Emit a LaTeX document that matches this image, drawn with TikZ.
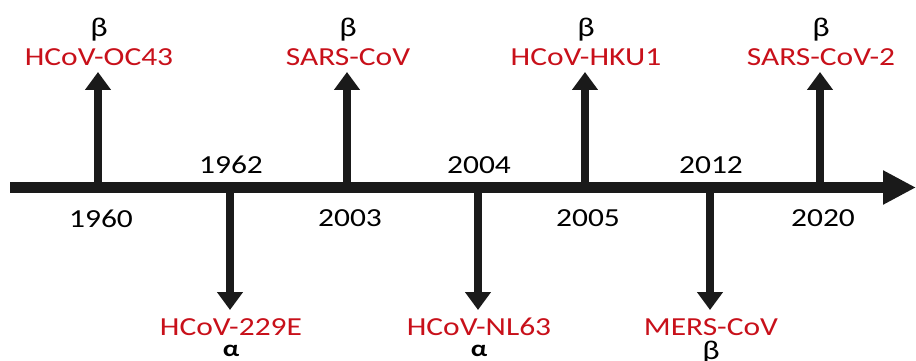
\documentclass[tikz,border=0pt]{standalone}
\usepackage{fontspec}
\usetikzlibrary{arrows.meta}
\newfontfamily\tlfont[FakeStretch=1.21]{Carlito}
\newfontfamily\greekfont[FakeStretch=1.21]{Carlito}
\definecolor{virusred}{HTML}{C8101A}
\definecolor{axisblack}{HTML}{1A1A1A}
\begin{document}
\begin{tikzpicture}[x=1pt,y=-1pt,
  axis/.style={draw=axisblack,line width=11pt,
    -{Triangle[width=32pt,length=33pt]}},
  event/.style={draw=axisblack,line width=8pt,
    -{Triangle[width=25pt,length=18pt]}},
  txt/.style={inner sep=0pt,font=\tlfont\fontsize{26}{28}\selectfont},
  virus/.style={txt,text=virusred},
  year/.style={txt,text=black},
  genus/.style={inner sep=0pt,anchor=base,text=black,
    font=\greekfont\fontsize{27}{30}\selectfont},
  alpha/.style={genus,font=\greekfont\bfseries\fontsize{23}{26}\selectfont}]
\useasboundingbox (0,0) rectangle (916,361);

% main time axis
\coordinate (a0) at (10,187.5);
\coordinate (a1) at (916,187.5);
\draw[axis] (a0) -- (a1);

% events above the axis
\foreach \n/\x/\name/\yr in {1/98/HCoV-OC43/1960, 3/347/SARS-CoV/2003,
                             5/585/HCoV-HKU1/2005, 7/820/SARS-CoV-2/2020}{
  \coordinate (b\n) at (\x,187.5);
  \coordinate (e\n) at (\x,72);
  \draw[event] (b\n) -- (e\n);
  \node[virus] (v\n) at (\x+1,57.5) {\name};
  \node[genus] (g\n) at (\x+1,37) {β};
  \node[year]  (y\n) at (\x+3,218.5) {\yr};
}

% events below the axis
\foreach \n/\x/\name/\yb in {2/230/HCoV-229E/1962, 4/478/HCoV-NL63/2004,
                             6/710/MERS-CoV/2012}{
  \coordinate (b\n) at (\x,187.5);
  \coordinate (e\n) at (\x,310);
  \draw[event] (b\n) -- (e\n);
  \node[virus] (v\n) at (\x+1,327) {\name};
  \node[year]  (y\n) at (\x+1,165) {\yb};
}
\node[alpha] (g2) at (231,356) {α};
\node[alpha] (g4) at (479,356) {α};
\node[genus] (g6) at (711,359) {β};
\end{tikzpicture}
\end{document}
